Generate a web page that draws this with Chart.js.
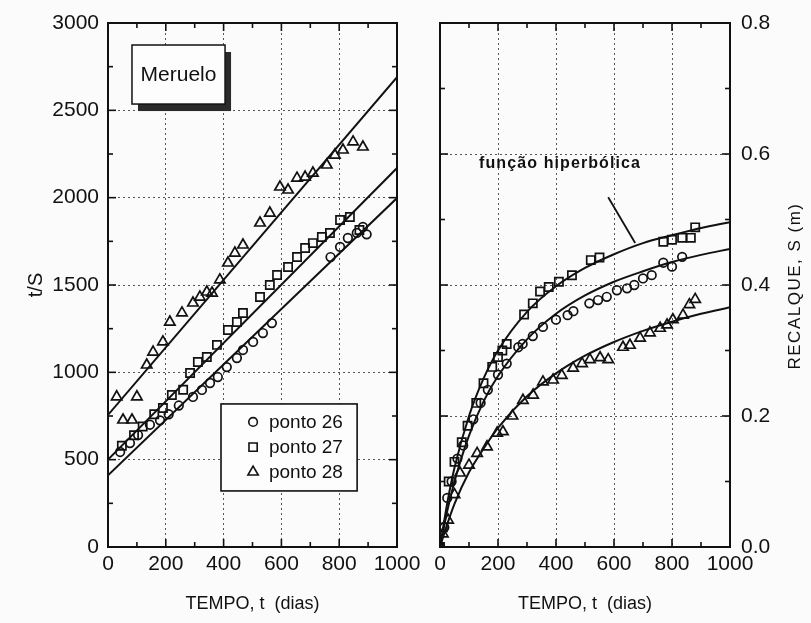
<!DOCTYPE html>
<html><head><meta charset="utf-8">
<script src="https://cdn.jsdelivr.net/npm/chart.js@4.4.1/dist/chart.umd.min.js"></script>
<style>
html,body{margin:0;padding:0;background:#fcfbfb;width:811px;height:623px;overflow:hidden}
#c1{position:absolute;left:0;top:0}
#c2{position:absolute;left:415px;top:0}
</style></head><body>
<canvas id="c1" width="420" height="623"></canvas>
<canvas id="c2" width="396" height="623"></canvas>
<script>
// ---------- tick labels ----------
const tempoTicks = [0, 200, 400, 600, 800, 1000];
const tsTicks = [0, 500, 1000, 1500, 2000, 2500, 3000];
const recalqueTicks = [0.0, 0.2, 0.4, 0.6, 0.8];

// ---------- left panel: t/S versus tempo ----------
const p26_t  = [42, 76, 104, 145, 180, 210, 245, 294, 325, 353, 380, 411, 446, 467, 502, 536, 567, 770, 803, 830, 861, 882, 895];
const p26_ts = [544, 595, 641, 700, 725, 760, 810, 859, 899, 939, 973, 1030, 1082, 1128, 1174, 1225, 1282, 1660, 1718, 1769, 1798, 1832, 1790];
const p27_t  = [48, 90, 120, 160, 190, 221, 260, 284, 311, 342, 377, 415, 446, 467, 526, 560, 585, 623, 654, 682, 709, 740, 768, 803, 837, 870];
const p27_ts = [580, 640, 690, 760, 796, 870, 900, 996, 1059, 1088, 1157, 1242, 1288, 1340, 1431, 1500, 1557, 1603, 1660, 1712, 1740, 1775, 1798, 1872, 1889, 1815];
const p28_t  = [30, 52, 83, 100, 134, 156, 190, 214, 256, 294, 318, 342, 360, 387, 415, 439, 467, 526, 560, 595, 623, 654, 682, 709, 757, 785, 813, 848, 882];
const p28_ts = [860, 727, 727, 860, 1042, 1116, 1174, 1288, 1340, 1397, 1431, 1460, 1454, 1529, 1626, 1683, 1729, 1855, 1912, 2061, 2044, 2112, 2118, 2141, 2187, 2244, 2273, 2319, 2290];
const fit_t    = [0, 1000];
const fit26_ts = [410, 1998];
const fit27_ts = [500, 2170];
const fit28_ts = [756, 2690];

// ---------- right panel: recalque S (m) versus tempo ----------
const recSq_t = [0, 10, 30, 50, 75, 95, 125, 150, 180, 200, 215, 230, 290, 320, 345, 375, 410, 455, 520, 550, 770, 800, 835, 865, 880];
const recSq_s = [0, 0.03, 0.10, 0.13, 0.16, 0.185, 0.22, 0.25, 0.275, 0.29, 0.30, 0.31, 0.355, 0.372, 0.39, 0.397, 0.405, 0.415, 0.438, 0.442, 0.466, 0.469, 0.472, 0.472, 0.488];
const recCi_t = [0, 15, 25, 40, 60, 80, 115, 140, 165, 200, 230, 270, 285, 320, 355, 400, 440, 460, 515, 545, 575, 610, 645, 670, 700, 730, 770, 800, 835];
const recCi_s = [0, 0.03, 0.075, 0.10, 0.135, 0.155, 0.195, 0.22, 0.24, 0.263, 0.28, 0.305, 0.31, 0.322, 0.336, 0.347, 0.354, 0.36, 0.372, 0.377, 0.382, 0.392, 0.395, 0.40, 0.41, 0.415, 0.434, 0.428, 0.443];
const recTr_t = [0, 10, 28, 50, 69, 100, 128, 162, 197, 217, 250, 286, 321, 355, 390, 420, 459, 490, 517, 552, 580, 631, 655, 690, 724, 759, 783, 803, 838, 860, 880];
const recTr_s = [0, 0.02, 0.041, 0.08, 0.113, 0.125, 0.143, 0.153, 0.174, 0.176, 0.20, 0.224, 0.232, 0.252, 0.255, 0.262, 0.273, 0.28, 0.286, 0.289, 0.286, 0.305, 0.308, 0.319, 0.327, 0.334, 0.339, 0.347, 0.354, 0.37, 0.378];
const curve_t   = [0, 25, 50, 100, 150, 200, 300, 400, 500, 600, 700, 800, 900, 1000];
const curveTop_s = [0, 0.067, 0.121, 0.20, 0.257, 0.30, 0.359, 0.398, 0.426, 0.447, 0.464, 0.476, 0.487, 0.496];
const curveMid_s = [0, 0.055, 0.10, 0.17, 0.222, 0.261, 0.317, 0.356, 0.384, 0.405, 0.421, 0.435, 0.446, 0.455];
const curveBot_s = [0, 0.035, 0.066, 0.114, 0.15, 0.182, 0.23, 0.265, 0.292, 0.313, 0.33, 0.344, 0.356, 0.366];

const FF = "'Liberation Sans', Arial, Helvetica, sans-serif";
const INK = '#111';
const pts = (xs, ys) => xs.map((x, i) => ({x: x, y: ys[i]}));

function markerDS(label, xs, ys, style, r) {
  return {label: label, data: pts(xs, ys), pointStyle: style, pointRadius: r,
    borderColor: INK, backgroundColor: 'rgba(0,0,0,0)', pointBorderWidth: 1.7, showLine: false};
}
function lineDS(label, xs, ys, tension) {
  return {label: label, data: pts(xs, ys), showLine: true, pointRadius: 0, borderColor: INK,
    borderWidth: 2, backgroundColor: 'rgba(0,0,0,0)', cubicInterpolationMode: tension ? 'monotone' : 'default'};
}

function drawMarker(ctx, style, x, y, r) {
  ctx.beginPath();
  if (style === 'circle') { ctx.arc(x, y, r, 0, Math.PI * 2); }
  else if (style === 'rect') { const s = r * Math.SQRT1_2; ctx.rect(x - s, y - s, 2 * s, 2 * s); }
  else { ctx.moveTo(x, y - r); ctx.lineTo(x + r * 0.866, y + r * 0.5); ctx.lineTo(x - r * 0.866, y + r * 0.5); ctx.closePath(); }
  ctx.stroke();
}

const framePlugin = {
  id: 'frame',
  afterDatasetsDraw(chart, args, opts) {
    const {ctx, chartArea: a, scales} = chart;
    const xs = scales.x, ys = scales.y;
    ctx.save();
    ctx.strokeStyle = INK;
    ctx.lineWidth = 2;
    ctx.strokeRect(a.left, a.top, a.right - a.left, a.bottom - a.top);
    ctx.lineWidth = 1.6;
    const seg = (x1, y1, x2, y2) => { ctx.beginPath(); ctx.moveTo(x1, y1); ctx.lineTo(x2, y2); ctx.stroke(); };
    const n1 = Math.round((xs.max - xs.min) / opts.xMinor);
    for (let i = 0; i <= n1; i++) {
      const v = xs.min + i * opts.xMinor;
      const px = xs.getPixelForValue(v);
      const L = (i % opts.xEvery === 0) ? 8 : 5;
      seg(px, a.bottom, px, a.bottom - L); seg(px, a.top, px, a.top + L);
    }
    const n2 = Math.round((ys.max - ys.min) / opts.yMinor);
    for (let i = 0; i <= n2; i++) {
      const v = ys.min + i * opts.yMinor;
      const py = ys.getPixelForValue(v);
      const L = (i % opts.yEvery === 0) ? 8 : 5;
      seg(a.left, py, a.left + L, py); seg(a.right, py, a.right - L, py);
    }
    ctx.restore();
  }
};

const leftNotes = {
  id: 'leftNotes',
  afterDatasetsDraw(chart) {
    const {ctx, scales: {x, y}} = chart;
    ctx.save();
    // Meruelo box with shadow
    const bx1 = x.getPixelForValue(83), bx2 = x.getPixelForValue(405);
    const by1 = y.getPixelForValue(2874), by2 = y.getPixelForValue(2536);
    ctx.fillStyle = '#2a2a2a';
    ctx.fillRect(bx1 + 6, by1 + 7, bx2 - bx1, by2 - by1);
    ctx.fillStyle = '#fdfdfd';
    ctx.fillRect(bx1, by1, bx2 - bx1, by2 - by1);
    ctx.strokeStyle = INK; ctx.lineWidth = 1.5;
    ctx.strokeRect(bx1, by1, bx2 - bx1, by2 - by1);
    ctx.fillStyle = INK;
    ctx.font = '21px ' + FF;
    ctx.textAlign = 'center'; ctx.textBaseline = 'middle';
    ctx.fillText('Meruelo', (bx1 + bx2) / 2, (by1 + by2) / 2 + 1);
    // legend
    const lx1 = x.getPixelForValue(391), lx2 = x.getPixelForValue(862);
    const ly1 = y.getPixelForValue(819), ly2 = y.getPixelForValue(321);
    ctx.fillStyle = '#fdfdfd';
    ctx.fillRect(lx1, ly1, lx2 - lx1, ly2 - ly1);
    ctx.strokeStyle = INK; ctx.lineWidth = 1.6;
    ctx.strokeRect(lx1, ly1, lx2 - lx1, ly2 - ly1);
    const items = [['circle', 'ponto 26', 716, 4.3], ['rect', 'ponto 27', 572, 5.8], ['triangle', 'ponto 28', 429, 6]];
    ctx.font = '19px ' + FF; ctx.textAlign = 'left'; ctx.fillStyle = INK; ctx.lineWidth = 1.6;
    items.forEach(it => {
      const py = y.getPixelForValue(it[2]);
      drawMarker(ctx, it[0], x.getPixelForValue(502), py, it[3]);
      ctx.fillText(it[1], x.getPixelForValue(557), py + 1);
    });
    ctx.restore();
  }
};

const rightNotes = {
  id: 'rightNotes',
  afterDatasetsDraw(chart) {
    const {ctx, chartArea: a, scales: {x, y}} = chart;
    ctx.save();
    ctx.fillStyle = INK;
    ctx.font = 'bold 16px ' + FF;
    ctx.letterSpacing = '1.1px';
    ctx.textAlign = 'center'; ctx.textBaseline = 'middle';
    ctx.fillText('função hiperbólica', x.getPixelForValue(414), y.getPixelForValue(0.586));
    ctx.strokeStyle = INK; ctx.lineWidth = 1.8;
    ctx.beginPath();
    ctx.moveTo(x.getPixelForValue(580), y.getPixelForValue(0.534));
    ctx.lineTo(x.getPixelForValue(673), y.getPixelForValue(0.464));
    ctx.stroke();
    // right axis title, reading bottom to top
    ctx.translate(a.right + 65, (a.top + a.bottom) / 2 + 1);
    ctx.rotate(-Math.PI / 2);
    ctx.font = '17px ' + FF;
    ctx.letterSpacing = '1.5px';
    ctx.fillText('RECALQUE, S (m)', 0, 0);
    ctx.restore();
  }
};

function xScale() {
  return {
    type: 'linear', min: 0, max: 1000,
    afterBuildTicks: s => { s.ticks = tempoTicks.map(v => ({value: v})); },
    ticks: {font: {family: FF, size: 21}, color: INK, padding: 5, maxRotation: 0, autoSkip: false, callback: v => String(v)},
    grid: {color: '#555', lineWidth: 1, drawTicks: false},
    border: {display: false, dash: [2, 3]},
    title: {display: true, text: 'TEMPO, t  (dias)', font: {family: FF, size: 18}, color: INK, padding: {top: 0, bottom: 0}},
    afterFit: s => { s.height = 68; s.paddingLeft = 0; s.paddingRight = 0; }
  };
}

new Chart(document.getElementById('c1'), {
  type: 'scatter',
  data: {datasets: [
    markerDS('ponto 26', p26_t, p26_ts, 'circle', 4.3),
    markerDS('ponto 27', p27_t, p27_ts, 'rect', 5.8),
    markerDS('ponto 28', p28_t, p28_ts, 'triangle', 6),
    lineDS('ajuste 26', fit_t, fit26_ts, false),
    lineDS('ajuste 27', fit_t, fit27_ts, false),
    lineDS('ajuste 28', fit_t, fit28_ts, false)
  ]},
  options: {
    responsive: false, animation: false, devicePixelRatio: 1,
    layout: {padding: {left: 0, right: 23, top: 23, bottom: 8}},
    plugins: {legend: {display: false}, tooltip: {enabled: false},
      frame: {xMinor: 100, xEvery: 2, yMinor: 250, yEvery: 2}},
    scales: {
      x: xScale(),
      y: {
        type: 'linear', min: 0, max: 3000,
        afterBuildTicks: s => { s.ticks = tsTicks.map(v => ({value: v})); },
        ticks: {font: {family: FF, size: 21}, color: INK, padding: 9, autoSkip: false, callback: v => String(v)},
        grid: {color: '#555', lineWidth: 1, drawTicks: false},
        border: {display: false, dash: [2, 3]},
        title: {display: true, text: 't/S', font: {family: FF, size: 20}, color: INK, padding: {top: 24, bottom: 0}},
        afterFit: s => { s.width = 108; s.paddingTop = 0; s.paddingBottom = 0; }
      }
    }
  },
  plugins: [framePlugin, leftNotes]
});

new Chart(document.getElementById('c2'), {
  type: 'scatter',
  data: {datasets: [
    markerDS('ponto 27', recSq_t, recSq_s, 'rect', 5.8),
    markerDS('ponto 26', recCi_t, recCi_s, 'circle', 4.3),
    markerDS('ponto 28', recTr_t, recTr_s, 'triangle', 6),
    lineDS('função hiperbólica A', curve_t, curveTop_s, true),
    lineDS('função hiperbólica B', curve_t, curveMid_s, true),
    lineDS('função hiperbólica C', curve_t, curveBot_s, true)
  ]},
  options: {
    responsive: false, animation: false, devicePixelRatio: 1,
    layout: {padding: {left: 25, right: 0, top: 23, bottom: 8}},
    plugins: {legend: {display: false}, tooltip: {enabled: false},
      frame: {xMinor: 100, xEvery: 2, yMinor: 0.1, yEvery: 2}},
    scales: {
      x: xScale(),
      y: {
        type: 'linear', position: 'right', min: 0, max: 0.8,
        afterBuildTicks: s => { s.ticks = recalqueTicks.map(v => ({value: v})); },
        ticks: {font: {family: FF, size: 21}, color: INK, padding: 11, autoSkip: false, callback: v => Number(v).toFixed(1)},
        grid: {color: '#555', lineWidth: 1, drawTicks: false},
        border: {display: false, dash: [2, 3]},
        title: {display: false},
        afterFit: s => { s.width = 81; s.paddingTop = 0; s.paddingBottom = 0; }
      }
    }
  },
  plugins: [framePlugin, rightNotes]
});
</script>
</body></html>
